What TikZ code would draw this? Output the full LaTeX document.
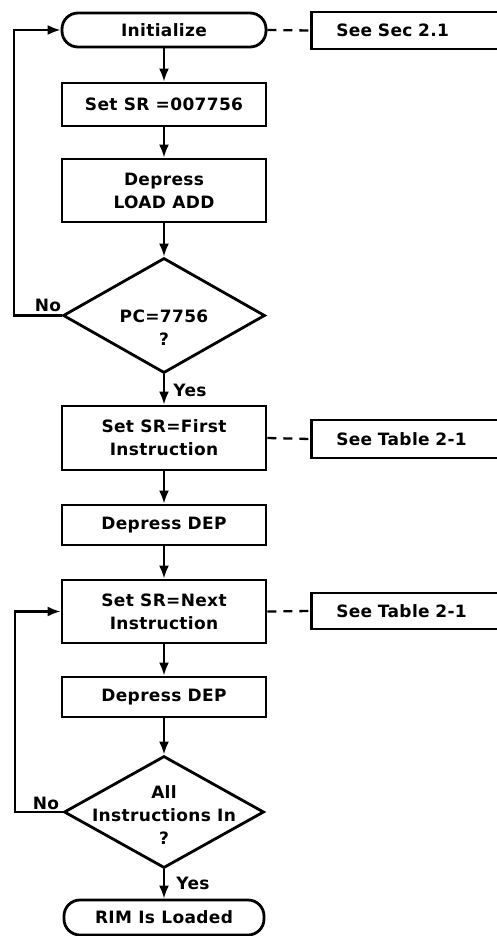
\documentclass[tikz,border=0pt]{standalone}
\usepackage{fontspec}
\setmainfont{DejaVu Sans}[LetterSpace=2]
\usetikzlibrary{arrows.meta,shapes.geometric}
\begin{document}
\begin{tikzpicture}[x=1pt,y=-1pt,>={Latex[length=13pt,width=10pt]},
    font=\fontsize{17}{23}\selectfont\bfseries,
    box/.style={draw,line width=2.8pt,minimum width=204pt,align=center,inner sep=0pt},
    term/.style={box,rounded corners=16pt},
    decision/.style={draw,diamond,line width=2.8pt,minimum width=202pt,minimum height=115pt,inner sep=0pt},
    note/.style={draw,line width=2.6pt,anchor=west,text width=200pt,inner xsep=25pt,align=left},
    flow/.style={->,line width=2.3pt},
    link/.style={line width=2.3pt,dash pattern=on 9pt off 7pt}]
    \useasboundingbox (0,0) rectangle (497,936);
    % main column
    \node[term,minimum height=34pt] (init) at (164,30) {Initialize};
    \node[box,minimum height=43pt] (setsr) at (164,104.5) {Set SR =007756};
    \node[box,minimum height=63pt] (load) at (164,190.5) {Depress\\LOAD ADD};
    \node[decision,label={[align=center,yshift=-12pt]center:PC=7756\\?}] (pc) at (164,315.5) {};
    \node[box,minimum height=64pt] (first) at (164,438) {Set SR=First\\Instruction};
    \node[box,minimum height=40pt] (dep1) at (164,525) {Depress DEP};
    \node[box,minimum height=63pt] (next) at (164,611.5) {Set SR=Next\\Instruction};
    \node[box,minimum height=40pt] (dep2) at (164,697) {Depress DEP};
    \node[decision,minimum width=200pt,minimum height=112pt,label={[align=center,yshift=-3pt]center:All\\Instructions In\\?}] (all) at (164,812) {};
    \node[term,minimum width=200pt,minimum height=35pt] (rim) at (164,917.5) {RIM Is Loaded};
    % side notes
    \node[note,minimum height=37pt] (sec) at (310,30.5) {See Sec 2.1};
    \node[note,minimum height=38pt] (tab1) at (310,439) {See Table 2-1};
    \node[note,minimum height=36pt] (tab2) at (310,611) {See Table 2-1};
    % branch labels
    \node (no1) at (48,305) {No};
    \node (yes1) at (190,390) {Yes};
    \node (no2) at (46,803) {No};
    \node (yes2) at (193,883) {Yes};
    \coordinate (back1) at (14,0);
    \coordinate (back2) at (15,0);
    % connectors
    \draw[flow] (init) -- (setsr);
    \draw[flow] (setsr) -- (load);
    \draw[flow] (load) -- (pc);
    \draw[flow] (pc) -- (first);
    \draw[flow] (first) -- (dep1);
    \draw[flow] (dep1) -- (next);
    \draw[flow] (next) -- (dep2);
    \draw[flow] (dep2) -- (all);
    \draw[flow] (all) -- (rim);
    \draw[flow] (pc.west) -- (pc.west -| back1) -- (init.west -| back1) -- (init.west);
    \draw[flow] (all.west) -- (all.west -| back2) -- (next.west -| back2) -- (next.west);
    \draw[link] (init.east) -- (sec.west);
    \draw[link] (first.east) -- (tab1.west);
    \draw[link] (next.east) -- (tab2.west);
\end{tikzpicture}
\end{document}
